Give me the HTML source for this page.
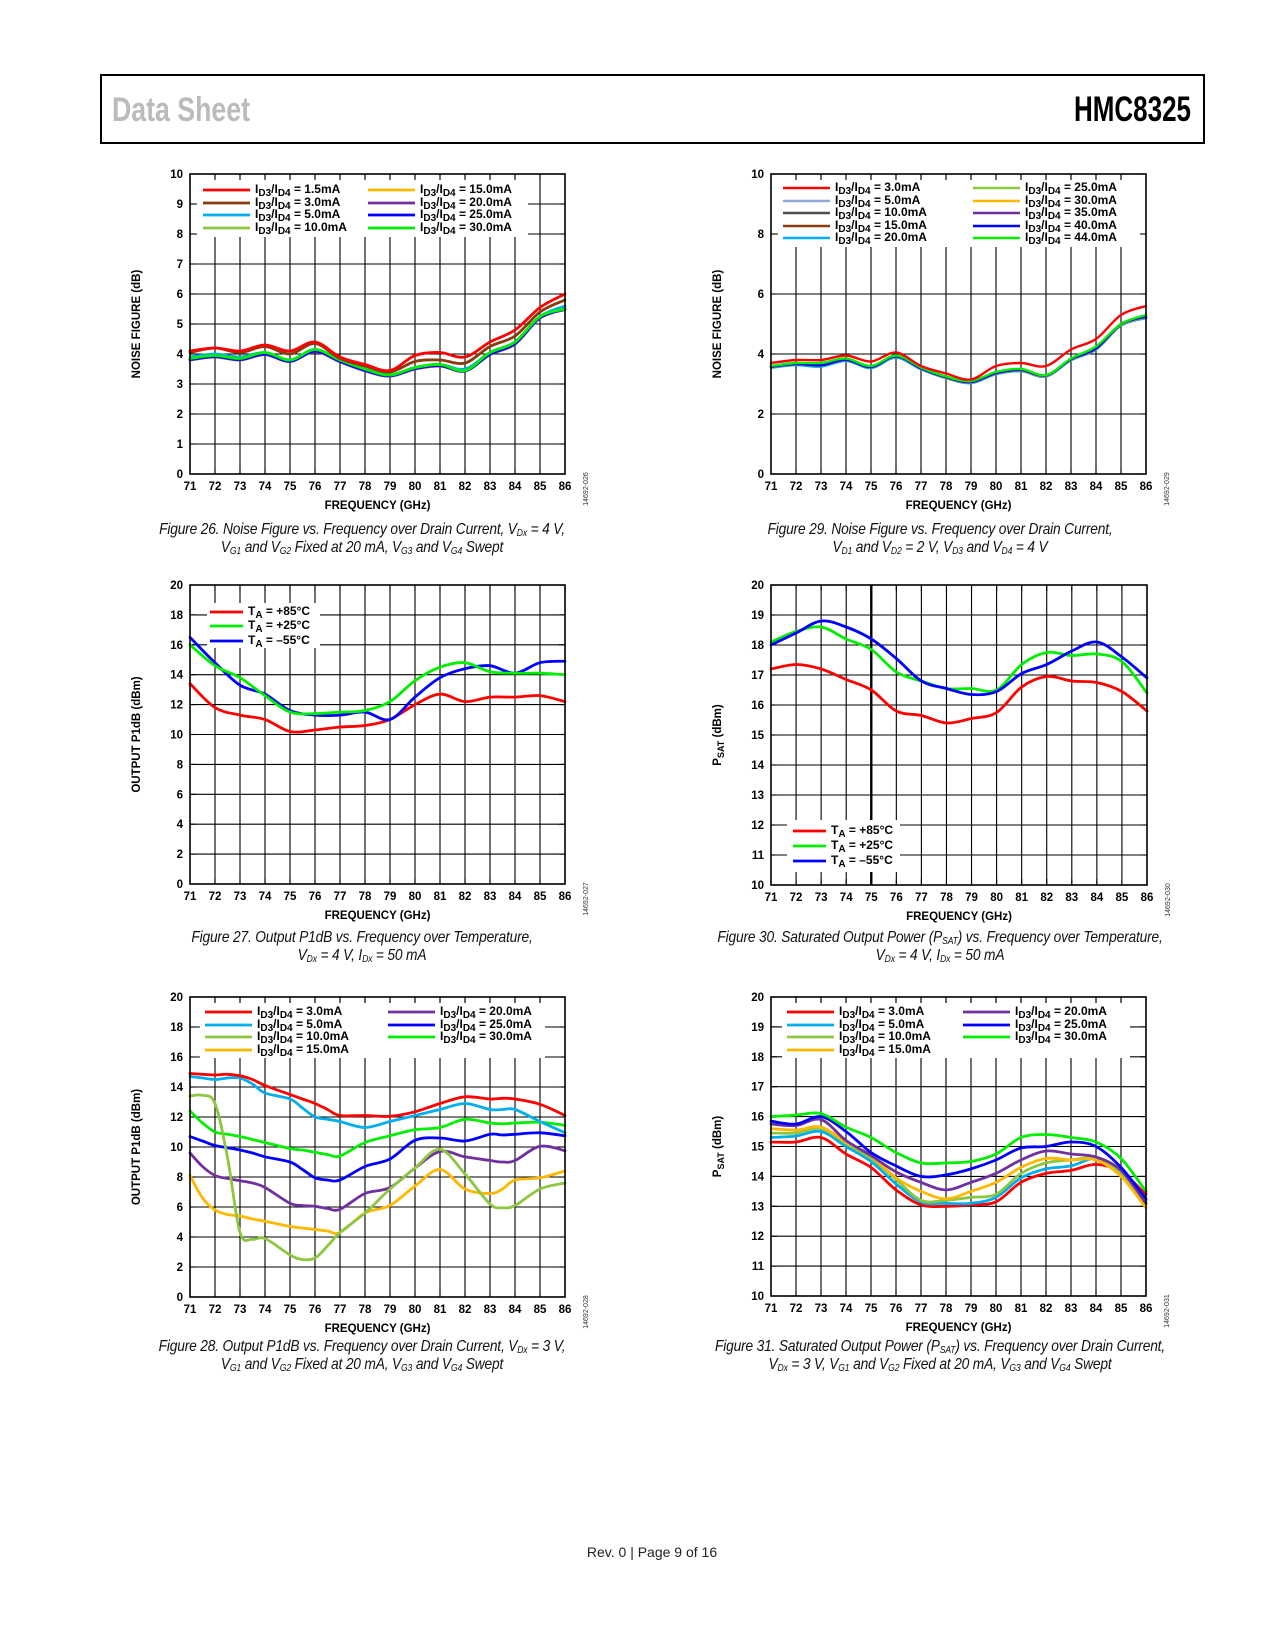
<!DOCTYPE html>
<html><head><meta charset="utf-8"><style>
body{margin:0;background:#fff;}
#wrap{position:relative;width:1275px;height:1650px;overflow:hidden;font-family:"Liberation Sans",sans-serif;}
.cap{position:absolute;width:600px;text-align:center;font-style:italic;font-size:16px;line-height:18px;color:#111;letter-spacing:-0.2px;transform:scaleX(0.86);transform-origin:center top;}
.cap sub{font-size:10px;vertical-align:-2px;line-height:0;}
</style></head><body>
<div id="wrap">
<svg id="svg" width="1275" height="1650" xmlns="http://www.w3.org/2000/svg" style="position:absolute;left:0;top:0">
<rect x="101" y="75" width="1103" height="68" fill="none" stroke="#000" stroke-width="2"/>
<text x="112" y="121" font-family="Liberation Sans, sans-serif" font-size="34" font-weight="bold" fill="#bbb" textLength="138" lengthAdjust="spacingAndGlyphs">Data Sheet</text>
<text x="1074" y="121" font-family="Liberation Sans, sans-serif" font-size="35" font-weight="bold" fill="#000" textLength="117" lengthAdjust="spacingAndGlyphs">HMC8325</text>
<text x="652" y="1557" text-anchor="middle" font-family="Liberation Sans, sans-serif" font-size="14" fill="#222">Rev. 0 | Page 9 of 16</text>
</svg>
<div class="cap" style="left:62px;top:521px">Figure 26. Noise Figure vs. Frequency over Drain Current, V<sub>Dx</sub> = 4 V,<br>V<sub>G1</sub> and V<sub>G2</sub> Fixed at 20 mA, V<sub>G3</sub> and V<sub>G4</sub> Swept</div>
<div class="cap" style="left:640px;top:521px">Figure 29. Noise Figure vs. Frequency over Drain Current,<br>V<sub>D1</sub> and V<sub>D2</sub> = 2 V, V<sub>D3</sub> and V<sub>D4</sub> = 4 V</div>
<div class="cap" style="left:62px;top:929px">Figure 27. Output P1dB vs. Frequency over Temperature,<br>V<sub>Dx</sub> = 4 V, I<sub>Dx</sub> = 50 mA</div>
<div class="cap" style="left:640px;top:929px">Figure 30. Saturated Output Power (P<sub>SAT</sub>) vs. Frequency over Temperature,<br>V<sub>Dx</sub> = 4 V, I<sub>Dx</sub> = 50 mA</div>
<div class="cap" style="left:62px;top:1338px">Figure 28. Output P1dB vs. Frequency over Drain Current, V<sub>Dx</sub> = 3 V,<br>V<sub>G1</sub> and V<sub>G2</sub> Fixed at 20 mA, V<sub>G3</sub> and V<sub>G4</sub> Swept</div>
<div class="cap" style="left:640px;top:1338px">Figure 31. Saturated Output Power (P<sub>SAT</sub>) vs. Frequency over Drain Current,<br>V<sub>Dx</sub> = 3 V, V<sub>G1</sub> and V<sub>G2</sub> Fixed at 20 mA, V<sub>G3</sub> and V<sub>G4</sub> Swept</div>
</div>
<script>
// ---------- DATA ----------
const freqInt = [71,72,73,74,75,76,77,78,79,80,81,82,83,84,85,86];
const xTickLabels = ["71","72","73","74","75","76","77","78","79","80","81","82","83","84","85","86"];

// Figure 26 noise figure
const f26_1p5 = [4.1,4.2,4.1,4.3,4.1,4.4,3.9,3.65,3.45,3.95,4.05,3.9,4.4,4.8,5.55,6.0];
const f26_3p0 = [4.05,4.2,4.05,4.25,4.0,4.35,3.85,3.6,3.4,3.75,3.8,3.7,4.25,4.6,5.4,5.8];
const f26_5p0 = [3.9,4.0,3.9,4.05,3.8,4.15,3.8,3.5,3.3,3.55,3.65,3.5,4.05,4.4,5.25,5.6];
const f26_10 = [3.82,3.92,3.82,4.0,3.75,4.1,3.75,3.45,3.28,3.5,3.6,3.45,4.0,4.35,5.2,5.5];
const f26_15 = [3.82,3.92,3.82,4.0,3.76,4.1,3.76,3.46,3.28,3.5,3.6,3.45,4.0,4.35,5.2,5.5];
const f26_20 = [3.8,3.9,3.8,3.98,3.75,4.08,3.74,3.44,3.26,3.5,3.6,3.43,3.98,4.33,5.2,5.48];
const f26_25 = [3.82,3.92,3.82,4.0,3.76,4.1,3.76,3.46,3.28,3.52,3.62,3.44,4.0,4.36,5.22,5.5];
const f26_30 = [3.85,3.95,3.85,4.05,3.8,4.15,3.8,3.5,3.3,3.55,3.65,3.45,4.05,4.4,5.25,5.5];

// Figure 29 noise figure
const f29_3 = [3.7,3.8,3.8,3.95,3.75,4.05,3.6,3.35,3.15,3.6,3.7,3.6,4.15,4.5,5.3,5.6];
const f29_5 = [3.58,3.66,3.62,3.8,3.56,3.92,3.52,3.22,3.06,3.36,3.46,3.28,3.82,4.18,4.98,5.24];
const f29_10 = [3.56,3.64,3.6,3.78,3.54,3.9,3.5,3.2,3.04,3.34,3.44,3.26,3.8,4.16,4.96,5.22];
const f29_15 = [3.55,3.64,3.6,3.78,3.54,3.9,3.5,3.2,3.04,3.33,3.43,3.25,3.8,4.15,4.95,5.2];
const f29_20 = [3.54,3.63,3.58,3.77,3.53,3.88,3.49,3.2,3.03,3.33,3.43,3.25,3.79,4.15,4.95,5.2];
const f29_25 = [3.58,3.68,3.64,3.82,3.58,3.93,3.53,3.23,3.07,3.37,3.47,3.28,3.83,4.2,5.0,5.26];
const f29_30 = [3.56,3.66,3.62,3.8,3.56,3.91,3.51,3.21,3.05,3.35,3.45,3.27,3.81,4.17,4.97,5.23];
const f29_35 = [3.57,3.66,3.62,3.8,3.56,3.92,3.52,3.22,3.06,3.36,3.46,3.28,3.82,4.18,4.98,5.24];
const f29_40 = [3.58,3.67,3.63,3.81,3.57,3.92,3.52,3.23,3.07,3.37,3.47,3.29,3.83,4.19,5.0,5.25];
const f29_44 = [3.6,3.7,3.7,3.85,3.6,3.95,3.55,3.25,3.1,3.4,3.5,3.3,3.85,4.25,5.0,5.3];

// Figure 27 P1dB over temperature
const f27_p85 = [13.4,11.8,11.3,11.0,10.2,10.3,10.5,10.6,11.0,12.0,12.7,12.2,12.5,12.5,12.6,12.2];
const f27_p25 = [16.0,14.6,13.8,12.6,11.5,11.4,11.5,11.6,12.2,13.6,14.5,14.8,14.2,14.1,14.1,14.0];
const f27_m55 = [16.5,14.8,13.3,12.7,11.6,11.3,11.3,11.5,11.0,12.5,13.8,14.4,14.6,14.1,14.8,14.9];

// Figure 30 PSAT over temperature
const f30_p85 = [17.2,17.35,17.2,16.85,16.5,15.8,15.65,15.4,15.55,15.75,16.6,16.95,16.8,16.75,16.45,15.8];
const f30_p25 = [18.1,18.45,18.6,18.2,17.85,17.1,16.8,16.55,16.55,16.5,17.35,17.75,17.65,17.7,17.45,16.4];
const f30_m55 = [18.0,18.4,18.8,18.6,18.2,17.55,16.8,16.55,16.35,16.45,17.05,17.35,17.8,18.1,17.6,16.9];

// Figure 28 P1dB over drain current
const freq28 = [71,71.5,72,72.5,73,73.5,74,75,75.5,76,76.5,77,78,79,80,81,82,83,83.5,84,85,86];
const f28_3 = [14.9,14.85,14.8,14.85,14.75,14.5,14.1,13.5,13.2,12.9,12.5,12.1,12.1,12.05,12.35,12.9,13.35,13.2,13.25,13.2,12.85,12.1];
const f28_5 = [14.7,14.6,14.5,14.6,14.6,14.2,13.6,13.2,12.6,12.0,11.85,11.7,11.3,11.7,12.1,12.5,12.9,12.5,12.5,12.5,11.7,10.95];
const f28_10 = [13.4,13.45,12.9,9.3,4.3,3.85,3.9,2.8,2.5,2.6,3.4,4.3,5.6,7.2,8.6,9.85,8.2,6.2,5.95,6.1,7.2,7.6];
const f28_15 = [8.1,6.6,5.8,5.5,5.4,5.2,5.05,4.7,4.6,4.5,4.4,4.3,5.6,6.1,7.4,8.5,7.2,6.9,7.2,7.8,7.95,8.4];
const f28_20 = [9.6,8.7,8.1,7.9,7.75,7.6,7.3,6.25,6.1,6.05,5.9,5.85,6.9,7.3,8.6,9.7,9.35,9.1,9.0,9.1,10.05,9.75];
const f28_25 = [10.7,10.4,10.1,9.95,9.8,9.6,9.35,9.0,8.5,7.95,7.8,7.8,8.7,9.2,10.45,10.6,10.4,10.85,10.8,10.85,10.95,10.75];
const f28_30 = [12.4,11.6,11.0,10.85,10.7,10.5,10.3,9.9,9.8,9.65,9.5,9.4,10.3,10.75,11.15,11.3,11.85,11.6,11.55,11.6,11.65,11.45];

// Figure 31 PSAT over drain current
const f31_3 = [15.15,15.15,15.3,14.75,14.3,13.55,13.05,13.0,13.05,13.15,13.8,14.1,14.2,14.4,14.15,13.4];
const f31_5 = [15.3,15.35,15.5,15.0,14.5,13.75,13.15,13.1,13.1,13.3,13.95,14.25,14.35,14.6,14.2,13.2];
const f31_10 = [15.45,15.45,15.6,15.1,14.6,13.9,13.2,13.2,13.3,13.4,14.1,14.45,14.55,14.6,14.1,13.1];
const f31_15 = [15.6,15.55,15.65,15.15,14.7,13.95,13.5,13.25,13.5,13.8,14.3,14.6,14.55,14.55,14.0,12.95];
const f31_20 = [15.75,15.7,15.9,15.2,14.7,14.15,13.8,13.55,13.8,14.1,14.55,14.85,14.75,14.65,14.2,13.1];
const f31_25 = [15.85,15.75,16.0,15.5,14.8,14.35,14.0,14.05,14.25,14.55,14.95,15.0,15.15,15.0,14.3,13.25];
const f31_30 = [16.0,16.05,16.1,15.65,15.3,14.8,14.45,14.45,14.5,14.75,15.3,15.4,15.3,15.15,14.6,13.5];

// ---------- RENDER ----------
const NS = "http://www.w3.org/2000/svg";
const svg = document.getElementById('svg');
function mk(tag, attrs, parent){
  const e = document.createElementNS(NS, tag);
  for (const k in attrs) e.setAttribute(k, attrs[k]);
  (parent||svg).appendChild(e);
  return e;
}
function smoothPath(pts){
  let d = "M"+pts[0][0].toFixed(1)+","+pts[0][1].toFixed(1);
  for (let i=0;i<pts.length-1;i++){
    const p0=pts[Math.max(0,i-1)], p1=pts[i], p2=pts[i+1], p3=pts[Math.min(pts.length-1,i+2)];
    const c1x=p1[0]+(p2[0]-p0[0])/6, c1y=p1[1]+(p2[1]-p0[1])/6;
    const c2x=p2[0]-(p3[0]-p1[0])/6, c2y=p2[1]-(p3[1]-p1[1])/6;
    d += " C"+c1x.toFixed(1)+","+c1y.toFixed(1)+" "+c2x.toFixed(1)+","+c2y.toFixed(1)+" "+p2[0].toFixed(1)+","+p2[1].toFixed(1);
  }
  return d;
}
function legendText(parent, x, y, main, sub, rest, sub2, rest2){
  const t = mk('text',{x:x,y:y,'font-size':12,'font-weight':'bold','font-family':'Liberation Sans, sans-serif',fill:'#000'},parent);
  
  
  const a = mk('tspan',{},t); a.textContent = main;
  const b = mk('tspan',{dy:3,'font-size':10},t); b.textContent = sub;
  if (sub2){
    const c = mk('tspan',{dy:-3},t); c.textContent = rest;
    const d = mk('tspan',{dy:3,'font-size':10},t); d.textContent = sub2;
    const e = mk('tspan',{dy:-3},t); e.textContent = rest2;
  } else {
    const c = mk('tspan',{dy:-3},t); c.textContent = rest;
  }
}
function drawChart(c){
  const g = mk('g',{});
  
  
  const X = f => c.left + (f-71)/15*c.w;
  const Y = v => c.top + (c.ymax-v)/(c.ymax-c.ymin)*c.h;
  for (let i=1;i<freqInt.length-1;i++){
    const l = mk('line',{x1:X(freqInt[i]),x2:X(freqInt[i]),y1:c.top,y2:c.top+c.h,stroke:'#000','stroke-width':1.1},g);
    
    
  }
  for (let v=c.ymin+c.ystep; v<c.ymax; v+=c.ystep){
    const l = mk('line',{x1:c.left,x2:c.left+c.w,y1:Y(v),y2:Y(v),stroke:'#000','stroke-width':1.1},g);
    
    
  }
  if (c.boldX){
    const l = mk('line',{x1:X(c.boldX),x2:X(c.boldX),y1:c.top,y2:c.top+c.h,stroke:'#000','stroke-width':2.4},g);
    
    
  }
  const lg = c.legend;
  const lb = mk('rect',{x:lg.x,y:lg.y,width:lg.w,height:lg.h,fill:'#fff'},g);
  
  
  for (let i=0;i<freqInt.length;i++){
    mk('line',{x1:X(freqInt[i]),x2:X(freqInt[i]),y1:c.top,y2:c.top+6,stroke:'#000','stroke-width':1.1},g);
    mk('line',{x1:X(freqInt[i]),x2:X(freqInt[i]),y1:c.top+c.h-6,y2:c.top+c.h,stroke:'#000','stroke-width':1.1},g);
  }
  for (let v=c.ymin; v<=c.ymax; v+=c.ystep){
    mk('line',{x1:c.left,x2:c.left+6,y1:Y(v),y2:Y(v),stroke:'#000','stroke-width':1.1},g);
    mk('line',{x1:c.left+c.w-6,x2:c.left+c.w,y1:Y(v),y2:Y(v),stroke:'#000','stroke-width':1.1},g);
  }
  c.series.forEach(s=>{
    const fr = s.freq || freqInt;
    const pts = s.vals.map((v,i)=>[X(fr[i]),Y(v)]);
    const p = mk('path',{d:smoothPath(pts),fill:'none',stroke:s.color,'stroke-width':c.lw,'stroke-linejoin':'round','stroke-linecap':'round'},g);
    
    
  });
  const fr = mk('rect',{x:c.left,y:c.top,width:c.w,height:c.h,fill:'none',stroke:'#000','stroke-width':1.6},g);
  
  
  lg.items.forEach(it=>{
    const l = mk('line',{x1:it.x,x2:it.x+lg.len,y1:it.y,y2:it.y,stroke:it.color,'stroke-width':c.lw},g);
    
    
    if (it.temp) legendText(g, it.x+lg.len+5, it.y+3, 'T','A',it.label);
    else legendText(g, it.x+lg.len+5, it.y+3, 'I','D3','/I','D4',it.label);
  });
  xTickLabels.forEach((lab,i)=>{
    const t = mk('text',{x:X(freqInt[i]),y:c.top+c.h+16,'text-anchor':'middle','font-size':11.5,'font-weight':'bold','font-family':'Liberation Sans, sans-serif'},g);
    
    
    t.textContent = lab;
  });
  for (let v=c.ymin; v<=c.ymax; v+=c.ystep){
    const t = mk('text',{x:c.left-7,y:Y(v)+4,'text-anchor':'end','font-size':11.5,'font-weight':'bold','font-family':'Liberation Sans, sans-serif'},g);
    
    
    t.textContent = String(v);
  }
  const xl = mk('text',{x:c.left+c.w/2,y:c.top+c.h+35,'text-anchor':'middle','font-size':11.5,'font-weight':'bold','font-family':'Liberation Sans, sans-serif'},g);
  
  
  xl.textContent = 'FREQUENCY (GHz)';
  const yx = c.left-50, yy = c.top+c.h/2;
  const yl = mk('text',{x:yx,y:yy,transform:'rotate(-90 '+yx+' '+yy+')','text-anchor':'middle','font-size':11.5,'font-weight':'bold','font-family':'Liberation Sans, sans-serif'},g);
  
  
  if (c.psat){
    const a = mk('tspan',{},yl); a.textContent='P';
    const b = mk('tspan',{dy:3,'font-size':9},yl); b.textContent='SAT';
    const d = mk('tspan',{dy:-3},yl); d.textContent=' (dBm)';
  } else yl.textContent = c.ylabel;
  const cx = c.left+c.w+23, cy = c.top+c.h+15;
  const cl = mk('text',{x:cx,y:cy,transform:'rotate(-90 '+cx+' '+cy+')','text-anchor':'middle','font-size':7,fill:'#333','font-family':'Liberation Sans, sans-serif'},g);
  
  
  cl.textContent = c.code;
}
const RED='#ff0000', BROWN='#8b3a0e', CYAN='#00aeef', LGREEN='#8dc63f', ORANGE='#ffb800', PURPLE='#7030a0', BLUE='#0000ff', GREEN='#00ee00', GRAY='#4d4d4d', LBLUE='#8eaadb';

drawChart({name:'figure-26-chart',left:190,top:174,w:375,h:300,ymin:0,ymax:10,ystep:1,lw:2.8,ylabel:'NOISE FIGURE (dB)',code:'14692-026',
  series:[{id:'series-10mA',color:LGREEN,vals:f26_10},{id:'series-15mA',color:ORANGE,vals:f26_15},{id:'series-20mA',color:PURPLE,vals:f26_20},{id:'series-25mA',color:BLUE,vals:f26_25},{id:'series-5mA',color:CYAN,vals:f26_5p0},{id:'series-30mA',color:GREEN,vals:f26_30},{id:'series-3mA',color:BROWN,vals:f26_3p0},{id:'series-1p5mA',color:RED,vals:f26_1p5}],
  legend:{x:197,y:178,w:331,h:59,len:47,items:[
    {x:203,y:190,color:RED,label:' = 1.5mA'},{x:203,y:203,color:BROWN,label:' = 3.0mA'},{x:203,y:215,color:CYAN,label:' = 5.0mA'},{x:203,y:228,color:LGREEN,label:' = 10.0mA'},
    {x:368,y:190,color:ORANGE,label:' = 15.0mA'},{x:368,y:203,color:PURPLE,label:' = 20.0mA'},{x:368,y:215,color:BLUE,label:' = 25.0mA'},{x:368,y:228,color:GREEN,label:' = 30.0mA'}]}});

drawChart({name:'figure-29-chart',left:771,top:174,w:375,h:300,ymin:0,ymax:10,ystep:2,lw:2.4,ylabel:'NOISE FIGURE (dB)',code:'14692-029',
  series:[{id:'series-5mA',color:LBLUE,vals:f29_5},{id:'series-10mA',color:GRAY,vals:f29_10},{id:'series-15mA',color:BROWN,vals:f29_15},{id:'series-20mA',color:CYAN,vals:f29_20},{id:'series-25mA',color:LGREEN,vals:f29_25},{id:'series-30mA',color:ORANGE,vals:f29_30},{id:'series-35mA',color:PURPLE,vals:f29_35},{id:'series-40mA',color:BLUE,vals:f29_40},{id:'series-44mA',color:GREEN,vals:f29_44},{id:'series-3mA',color:RED,vals:f29_3}],
  legend:{x:778,y:180,w:365,h:67,len:47,items:[
    {x:783,y:188,color:RED,label:' = 3.0mA'},{x:783,y:201,color:LBLUE,label:' = 5.0mA'},{x:783,y:213,color:GRAY,label:' = 10.0mA'},{x:783,y:226,color:BROWN,label:' = 15.0mA'},{x:783,y:238,color:CYAN,label:' = 20.0mA'},
    {x:973,y:188,color:LGREEN,label:' = 25.0mA'},{x:973,y:201,color:ORANGE,label:' = 30.0mA'},{x:973,y:213,color:PURPLE,label:' = 35.0mA'},{x:973,y:226,color:BLUE,label:' = 40.0mA'},{x:973,y:238,color:GREEN,label:' = 44.0mA'}]}});

drawChart({name:'figure-27-chart',left:190,top:585,w:375,h:299,ymin:0,ymax:20,ystep:2,lw:2.8,ylabel:'OUTPUT P1dB (dBm)',code:'14692-027',
  series:[{id:'series-plus85C',color:RED,vals:f27_p85},{id:'series-minus55C',color:BLUE,vals:f27_m55},{id:'series-plus25C',color:GREEN,vals:f27_p25}],
  legend:{x:207,y:603,w:113,h:45,len:33,items:[
    {x:210,y:612,color:RED,temp:1,label:' = +85°C'},{x:210,y:626,color:GREEN,temp:1,label:' = +25°C'},{x:210,y:641,color:BLUE,temp:1,label:' = –55°C'}]}});

drawChart({name:'figure-30-chart',left:771,top:585,w:376,h:300,ymin:10,ymax:20,ystep:1,lw:2.8,psat:1,code:'14692-030',boldX:75,
  series:[{id:'series-plus85C',color:RED,vals:f30_p85},{id:'series-plus25C',color:GREEN,vals:f30_p25},{id:'series-minus55C',color:BLUE,vals:f30_m55}],
  legend:{x:787,y:820,w:113,h:52,len:33,items:[
    {x:793,y:831,color:RED,temp:1,label:' = +85°C'},{x:793,y:846,color:GREEN,temp:1,label:' = +25°C'},{x:793,y:861,color:BLUE,temp:1,label:' = –55°C'}]}});

drawChart({name:'figure-28-chart',left:190,top:997,w:375,h:300,ymin:0,ymax:20,ystep:2,lw:2.8,ylabel:'OUTPUT P1dB (dBm)',code:'14692-028',
  series:[{id:'series-15mA',color:ORANGE,vals:f28_15,freq:freq28},{id:'series-20mA',color:PURPLE,vals:f28_20,freq:freq28},{id:'series-25mA',color:BLUE,vals:f28_25,freq:freq28},{id:'series-30mA',color:GREEN,vals:f28_30,freq:freq28},{id:'series-10mA',color:LGREEN,vals:f28_10,freq:freq28},{id:'series-5mA',color:CYAN,vals:f28_5,freq:freq28},{id:'series-3mA',color:RED,vals:f28_3,freq:freq28}],
  legend:{x:200,y:1003,w:345,h:55,len:47,items:[
    {x:205,y:1012,color:RED,label:' = 3.0mA'},{x:205,y:1025,color:CYAN,label:' = 5.0mA'},{x:205,y:1037,color:LGREEN,label:' = 10.0mA'},{x:205,y:1050,color:ORANGE,label:' = 15.0mA'},
    {x:388,y:1012,color:PURPLE,label:' = 20.0mA'},{x:388,y:1025,color:BLUE,label:' = 25.0mA'},{x:388,y:1037,color:GREEN,label:' = 30.0mA'}]}});

drawChart({name:'figure-31-chart',left:771,top:997,w:375,h:299,ymin:10,ymax:20,ystep:1,lw:2.8,psat:1,code:'14692-031',
  series:[{id:'series-3mA',color:RED,vals:f31_3},{id:'series-5mA',color:CYAN,vals:f31_5},{id:'series-10mA',color:LGREEN,vals:f31_10},{id:'series-15mA',color:ORANGE,vals:f31_15},{id:'series-20mA',color:PURPLE,vals:f31_20},{id:'series-25mA',color:BLUE,vals:f31_25},{id:'series-30mA',color:GREEN,vals:f31_30}],
  legend:{x:782,y:1003,w:348,h:55,len:47,items:[
    {x:787,y:1012,color:RED,label:' = 3.0mA'},{x:787,y:1025,color:CYAN,label:' = 5.0mA'},{x:787,y:1037,color:LGREEN,label:' = 10.0mA'},{x:787,y:1050,color:ORANGE,label:' = 15.0mA'},
    {x:963,y:1012,color:PURPLE,label:' = 20.0mA'},{x:963,y:1025,color:BLUE,label:' = 25.0mA'},{x:963,y:1037,color:GREEN,label:' = 30.0mA'}]}});
</script>
</body></html>
